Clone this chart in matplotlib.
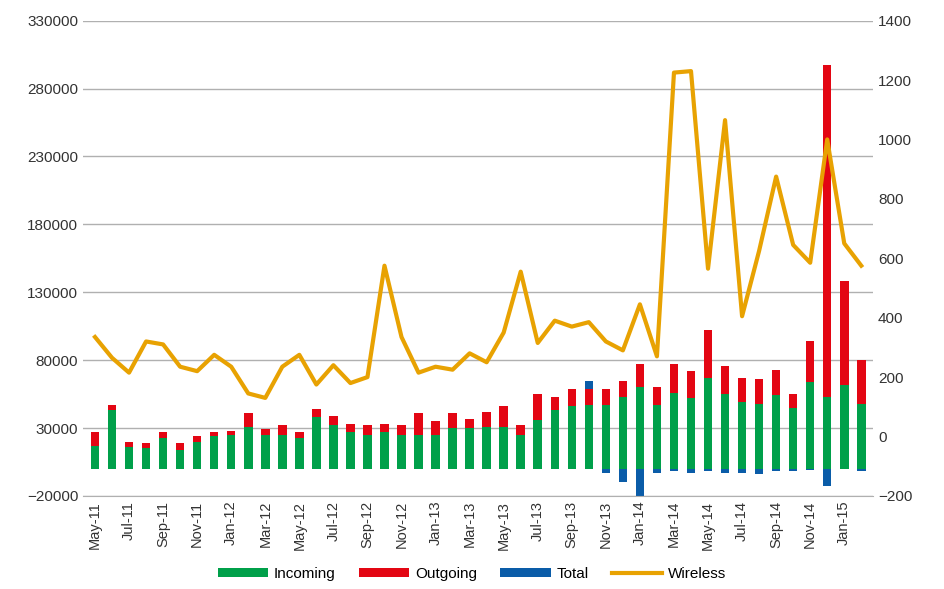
import matplotlib
matplotlib.use("Agg")
import matplotlib.pyplot as plt
import numpy as np

plt.rcParams['font.family'] = ['Liberation Sans', 'DejaVu Sans']

months = []
mn = ['Jan','Feb','Mar','Apr','May','Jun','Jul','Aug','Sep','Oct','Nov','Dec']
y, m = 11, 4
for i in range(46):
    months.append(f"{mn[m]}-{y:02d}")
    m += 1
    if m == 12:
        m = 0; y += 1

incoming = [17000,43000,16000,15000,23000,14000,20000,24000,25000,31000,25000,25000,23000,38000,32000,27000,25000,27000,25000,25000,25000,30000,30000,31000,31000,25000,36000,43000,46000,47000,47000,53000,60000,47000,56000,52000,67000,55000,49000,48000,54000,45000,64000,53000,62000,48000]
top =      [27000,47000,20000,19000,27000,19000,24000,27000,28000,41000,29000,32000,27000,44000,39000,33000,32000,33000,32000,41000,35000,41000,37000,42000,46000,32000,55000,53000,59000,59000,59000,65000,77000,60000,77000,72000,102000,76000,67000,66000,73000,55000,94000,297000,138000,80000]
outgoing = [t - i for t, i in zip(top, incoming)]
total = [0]*29 + [6000,-3000,-10000,-20000,-3000,-2000,-3000,-2000,-3000,-3000,-4000,-2000,-2000,-1000,-13000,0,-2000]
wireless = [335,265,215,320,310,235,220,275,235,145,130,235,275,175,240,180,200,575,335,215,235,225,280,250,350,555,315,390,370,385,320,290,445,270,1225,1230,565,1065,405,625,875,645,585,1000,650,575]

fig, ax = plt.subplots(figsize=(9.44, 5.89), dpi=100)
fig.subplots_adjust(left=0.088, right=0.925, top=0.965, bottom=0.158)
x = np.arange(len(months))
w = 0.5
ax.bar(x, incoming, w, color='#00a04a', label='Incoming', zorder=2)
ax.bar(x, outgoing, w, bottom=incoming, color='#e30613', label='Outgoing', zorder=2)
tb = [top[i] if total[i] > 0 else 0 for i in range(len(x))]
ax.bar(x, total, w, bottom=tb, color='#0a5ca8', label='Total', zorder=2)
ax.set_ylim(-20000, 330000)
ax.set_yticks(np.arange(-20000, 330001, 50000))
ax.yaxis.grid(True, color='#b0b0b0', lw=1, zorder=0)
ax.set_xlim(-0.7, len(x) - 0.3)
ax.set_xticks(x[::2])
ax.set_xticklabels(months[::2], rotation=90)
for s in ['top', 'right', 'left']:
    ax.spines[s].set_visible(False)
ax.spines['bottom'].set_color('#b0b0b0')
ax.tick_params(axis='y', length=0, labelsize=11, colors='#333333')
ax.tick_params(axis='x', length=0, labelsize=10.5, colors='#333333')

ax2 = ax.twinx()
ax2.plot(x, wireless, color='#e8a202', lw=3, label='Wireless', zorder=3)
ax2.set_ylim(-200, 1400)
ax2.set_yticks(np.arange(-200, 1401, 200))
for s in ['top', 'right', 'left', 'bottom']:
    ax2.spines[s].set_visible(False)
ax2.tick_params(axis='y', length=0, labelsize=11, colors='#333333')

h1, l1 = ax.get_legend_handles_labels()
h2, l2 = ax2.get_legend_handles_labels()
fig.legend(h1 + h2, l1 + l2, loc='lower center', ncol=4, frameon=False,
           bbox_to_anchor=(0.5, -0.01), fontsize=11, handlelength=3.3,
           handleheight=0.5, columnspacing=1.5, handletextpad=0.4)
fig.savefig('out.png')
